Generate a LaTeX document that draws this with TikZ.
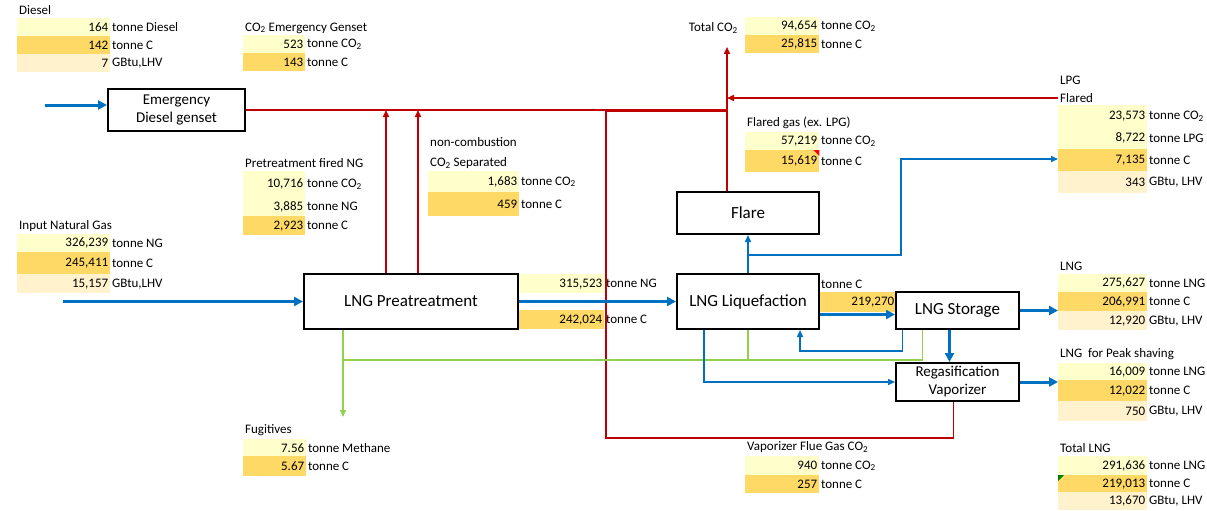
\documentclass[tikz,border=0pt]{standalone}
\usepackage{fontspec}
\setmainfont{Carlito}
\usetikzlibrary{positioning}
\usetikzlibrary{arrows.meta}
\definecolor{lnblue}{HTML}{0070C0}
\definecolor{lnred}{HTML}{C00000}
\definecolor{lngreen}{HTML}{92D050}
\definecolor{cellyel}{HTML}{FFFFCC}
\definecolor{cellgold}{HTML}{FFD966}
\definecolor{cellcream}{HTML}{FFF2CC}
\newcommand{\tabfont}{\fontsize{13}{15}\selectfont}
\newcommand{\boxfont}{\fontsize{17}{20}\selectfont}
\newcommand{\smallboxfont}{\fontsize{15}{18}\selectfont}
\newcommand{\cotwo}{CO\textsubscript{2}}
\tikzset{
	headline/.style={anchor=west, inner xsep=2pt, inner ysep=0pt, font=\tabfont},
	unit/.style={inner xsep=1.5pt, inner ysep=0pt, font=\tabfont},
	cell/.style={anchor=north west, inner xsep=2pt, inner ysep=0pt, align=right, font=\tabfont},
	procbox/.style={draw, line width=2pt, inner sep=0pt, align=center, font=\boxfont},
	bluethick/.style={lnblue, line width=3pt, -{Triangle[length=9pt,width=9pt]}},
	bluearrow/.style={lnblue, line width=1.5pt, -{Triangle[length=7pt,width=6pt]}},
	redline/.style={lnred, line width=1.5pt},
	redarrow/.style={redline, -{Triangle[length=7pt,width=6pt]}},
	greenline/.style={lngreen, line width=1.5pt},
	greenarrow/.style={greenline, -{Triangle[length=7pt,width=6pt]}}
}

\begin{document}
\begin{tikzpicture}[x=1pt, y=-1pt]
	\useasboundingbox (0,0) rectangle (1207,511);

	\node[headline] (dslT) at (17,10) {Diesel};
	\node[cell, fill=cellyel, text width=89pt, minimum height=18pt] (dslA) at (17,18) {164};
	\node[unit, right=0pt of dslA] (dslAu) {tonne Diesel};
	\node[cell, fill=cellgold, text width=89pt, minimum height=18pt] (dslB) at (17,36) {142};
	\node[unit, right=0pt of dslB] (dslBu) {tonne C};
	\node[cell, fill=cellcream, text width=89pt, minimum height=18pt] (dslC) at (17,54) {7};
	\node[unit, right=0pt of dslC] (dslCu) {GBtu,LHV};

	\node[headline] (egT) at (243,28) {\cotwo{} Emergency Genset};
	\node[cell, fill=cellyel, text width=58pt, minimum height=18pt] (egA) at (243,35) {523};
	\node[unit, right=0pt of egA] (egAu) {tonne \cotwo};
	\node[cell, fill=cellgold, text width=58pt, minimum height=18pt] (egB) at (243,53) {143};
	\node[unit, right=0pt of egB] (egBu) {tonne C};

	\node[headline, anchor=east] (tcT) at (740,28) {Total \cotwo};
	\node[cell, fill=cellyel, text width=70pt, minimum height=18pt] (tcA) at (745,17) {94,654};
	\node[unit, right=0pt of tcA] (tcAu) {tonne \cotwo};
	\node[cell, fill=cellgold, text width=70pt, minimum height=18pt] (tcB) at (745,35) {25,815};
	\node[unit, right=0pt of tcB] (tcBu) {tonne C};

	\node[headline] (lpgT) at (1058,80) {LPG};
	\node[headline] (lpgF) at (1058,98) {Flared};
	\node[cell, fill=cellyel, text width=85pt, minimum height=22pt] (lpgA) at (1058,105) {23,573};
	\node[unit, right=0pt of lpgA] (lpgAu) {tonne \cotwo};
	\node[cell, fill=cellyel, text width=85pt, minimum height=22pt] (lpgB) at (1058,127) {8,722};
	\node[unit, right=0pt of lpgB] (lpgBu) {tonne LPG};
	\node[cell, fill=cellgold, text width=85pt, minimum height=22pt] (lpgC) at (1058,149) {7,135};
	\node[unit, right=0pt of lpgC] (lpgCu) {tonne C};
	\node[cell, fill=cellcream, text width=85pt, minimum height=22pt] (lpgD) at (1058,171) {343};
	\node[unit, right=0pt of lpgD] (lpgDu) {GBtu, LHV};

	\node[headline] (fgT) at (745,123) {Flared gas (ex. LPG)};
	\node[cell, fill=cellyel, text width=70pt, minimum height=18pt] (fgA) at (745,132) {57,219};
	\node[unit, right=0pt of fgA] (fgAu) {tonne \cotwo};
	\node[cell, fill=cellgold, text width=70pt, minimum height=22pt] (fgB) at (745,150) {15,619};
	\node[unit, right=0pt of fgB] (fgBu) {tonne C};
	\fill[red] (fgB.north east) -- ++(-6,0) -- ++(6,6) -- cycle;

	\node[headline] (pfT) at (243,163) {Pretreatment fired NG};
	\node[cell, fill=cellyel, text width=58pt, minimum height=26pt] (pfA) at (243,171) {10,716};
	\node[unit, right=0pt of pfA] (pfAu) {tonne \cotwo};
	\node[cell, fill=cellyel, text width=58pt, minimum height=19pt] (pfB) at (243,197) {3,885};
	\node[unit, right=0pt of pfB] (pfBu) {tonne NG};
	\node[cell, fill=cellgold, text width=58pt, minimum height=19pt] (pfC) at (243,216) {2,923};
	\node[unit, right=0pt of pfC] (pfCu) {tonne C};

	\node[headline] (ncT) at (428,142) {non-combustion};
	\node[headline] (ncS) at (428,163) {\cotwo{} Separated};
	\node[cell, fill=cellyel, text width=87pt, minimum height=21pt] (ncA) at (428,171) {1,683};
	\node[unit, right=0pt of ncA] (ncAu) {tonne \cotwo};
	\node[cell, fill=cellgold, text width=87pt, minimum height=24pt] (ncB) at (428,192) {459};
	\node[unit, right=0pt of ncB] (ncBu) {tonne C};

	\node[headline] (ngT) at (17,226) {Input Natural Gas};
	\node[cell, fill=cellyel, text width=89pt, minimum height=18pt] (ngA) at (17,234) {326,239};
	\node[unit, right=0pt of ngA] (ngAu) {tonne NG};
	\node[cell, fill=cellgold, text width=89pt, minimum height=22pt] (ngB) at (17,252) {245,411};
	\node[unit, right=0pt of ngB] (ngBu) {tonne C};
	\node[cell, fill=cellcream, text width=89pt, minimum height=19pt] (ngC) at (17,274) {15,157};
	\node[unit, right=0pt of ngC] (ngCu) {GBtu,LHV};

	\node[cell, fill=cellyel, text width=82pt, minimum height=19pt] (poA) at (518,274) {315,523};
	\node[unit, right=0pt of poA] (poAu) {tonne NG};
	\node[cell, fill=cellgold, text width=82pt, minimum height=19pt] (poB) at (518,310) {242,024};
	\node[unit, right=0pt of poB] (poBu) {tonne C};

	\node[headline] (loT) at (819,284) {tonne C};
	\node[cell, fill=cellgold, text width=73pt, minimum height=20pt] (loA) at (819,292) {219,270};

	\node[headline] (lngT) at (1058,266) {LNG};
	\node[cell, fill=cellyel, text width=85pt, minimum height=18pt] (lngA) at (1058,274) {275,627};
	\node[unit, right=0pt of lngA] (lngAu) {tonne LNG};
	\node[cell, fill=cellgold, text width=85pt, minimum height=19pt] (lngB) at (1058,292) {206,991};
	\node[unit, right=0pt of lngB] (lngBu) {tonne C};
	\node[cell, fill=cellcream, text width=85pt, minimum height=19pt] (lngC) at (1058,311) {12,920};
	\node[unit, right=0pt of lngC] (lngCu) {GBtu, LHV};

	\node[headline] (pkT) at (1058,354) {LNG\ \ for Peak shaving};
	\node[cell, fill=cellyel, text width=85pt, minimum height=17pt] (pkA) at (1058,363) {16,009};
	\node[unit, right=0pt of pkA] (pkAu) {tonne LNG};
	\node[cell, fill=cellgold, text width=85pt, minimum height=21pt] (pkB) at (1058,380) {12,022};
	\node[unit, right=0pt of pkB] (pkBu) {tonne C};
	\node[cell, fill=cellcream, text width=85pt, minimum height=20pt] (pkC) at (1058,401) {750};
	\node[unit, right=0pt of pkC] (pkCu) {GBtu, LHV};

	\node[headline] (tlT) at (1058,448) {Total LNG};
	\node[cell, fill=cellyel, text width=85pt, minimum height=19pt] (tlA) at (1058,456) {291,636};
	\node[unit, right=0pt of tlA] (tlAu) {tonne LNG};
	\node[cell, fill=cellgold, text width=85pt, minimum height=17pt] (tlB) at (1058,475) {219,013};
	\node[unit, right=0pt of tlB] (tlBu) {tonne C};
	\node[cell, fill=cellcream, text width=85pt, minimum height=18pt] (tlC) at (1058,492) {13,670};
	\node[unit, right=0pt of tlC] (tlCu) {GBtu, LHV};
	\fill[green!50!black] (tlB.north west) -- ++(6,0) -- ++(-6,6) -- cycle;

	\node[headline] (fuT) at (243,430) {Fugitives};
	\node[cell, fill=cellyel, text width=59pt, minimum height=17pt] (fuA) at (243,439) {7.56};
	\node[unit, right=0pt of fuA] (fuAu) {tonne Methane};
	\node[cell, fill=cellgold, text width=59pt, minimum height=20pt] (fuB) at (243,456) {5.67};
	\node[unit, right=0pt of fuB] (fuBu) {tonne C};

	\node[headline] (vfT) at (745,447) {Vaporizer Flue Gas \cotwo};
	\node[cell, fill=cellyel, text width=70pt, minimum height=19pt] (vfA) at (745,456) {940};
	\node[unit, right=0pt of vfA] (vfAu) {tonne \cotwo};
	\node[cell, fill=cellgold, text width=70pt, minimum height=18pt] (vfB) at (745,475) {257};
	\node[unit, right=0pt of vfB] (vfBu) {tonne C};

	\node[procbox, minimum width=137pt, minimum height=42pt, font=\smallboxfont] (gen) at (176.5,110) {Emergency\\Diesel genset};
	\node[procbox, minimum width=214pt, minimum height=55pt] (pre) at (411,301.5) {LNG Preatreatment};
	\node[procbox, minimum width=142pt, minimum height=42pt] (flare) at (748,213) {Flare};
	\node[procbox, minimum width=142pt, minimum height=55pt] (liq) at (748,301.5) {LNG Liquefaction};
	\node[procbox, minimum width=123pt, minimum height=37pt] (stor) at (957.5,310.5) {LNG Storage};
	\node[procbox, minimum width=123pt, minimum height=38pt, font=\smallboxfont] (regas) at (957.5,382) {Regasification\\Vaporizer};

	\coordinate (dslIn) at (45,105);
	\coordinate (ngIn) at (63,301.5);
	\coordinate (co2j) at (727,110);
	\coordinate (co2top) at (727,47);
	\coordinate (flueC) at (606,438);
	\coordinate (lpgJ) at (748,255);
	\coordinate (lpgK) at (901,159);
	\coordinate (grnJ) at (343,360);

	\draw[redline] (gen.east) -- (gen.east -| co2j);
	\draw[redline] ([xshift=-4pt]regas.south) |- (flueC) |- ([yshift=-1pt]co2j);
	\draw[redarrow] ([xshift=-25pt]pre.north) -- ([xshift=-25pt]pre.north |- co2j);
	\draw[redarrow] ([xshift=7pt]pre.north) -- ([xshift=7pt]pre.north |- co2j);
	\draw[redarrow] ([xshift=-21pt]flare.north) -- (co2top);
	\draw[redarrow] (lpgF.west) -- (lpgF.west -| co2j);

	\draw[greenarrow] ([xshift=-68pt]pre.south) -- ++(0,87);
	\draw[greenline] ([xshift=-35pt]stor.south) |- (grnJ);
	\draw[greenline] (liq.south) -- (liq.south |- grnJ);

	\draw[bluethick] (dslIn) -- (dslIn -| gen.west);
	\draw[bluethick] (ngIn) -- (pre.west);
	\draw[bluethick] (pre.east) -- (liq.west);
	\draw[bluethick] ([yshift=-4pt]stor.west -| liq.east) -- ([yshift=-4pt]stor.west);
	\draw[bluethick] (stor.east) -- (stor.east -| lngB.west);
	\draw[bluethick] ([xshift=-8pt]stor.south) -- ([xshift=-8pt]regas.north);
	\draw[bluethick] (regas.east) -- (regas.east -| pkB.west);
	\draw[bluearrow] (liq.north) -- (flare.south);
	\draw[bluearrow] (lpgJ) -| (lpgK) -- (lpgK -| lpgC.west);
	\draw[bluearrow] ([xshift=-55pt]stor.south) -- ++(0,21) -| ([xshift=52pt]liq.south);
	\draw[bluearrow] ([xshift=-44pt]liq.south) |- (regas.west);
\end{tikzpicture}
\end{document}
